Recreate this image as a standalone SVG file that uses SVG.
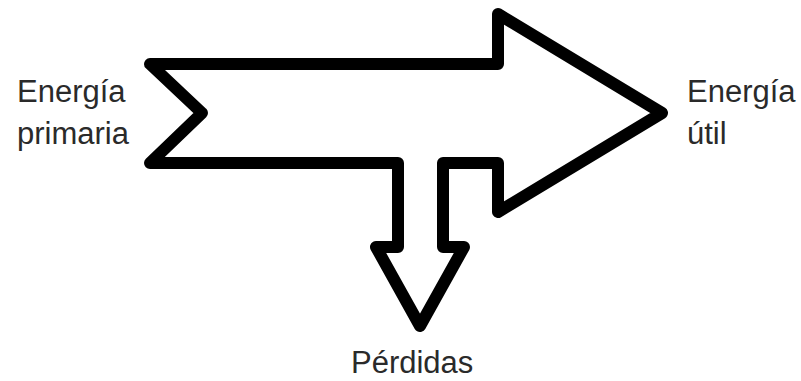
<svg xmlns="http://www.w3.org/2000/svg" width="801" height="381" viewBox="0 0 801 381">
<style>
.lbl{font-family:"Liberation Sans",Arial,sans-serif;font-size:31px;fill:#2a2a2a}
.shape{fill:#fff;stroke:#000;stroke-width:12;stroke-linejoin:round}
</style>
<rect width="801" height="381" fill="#fff"/>
<g id="connectors"></g>
<g id="flow-arrow">
<path class="shape" d="M150,64 L498,64 L498,14 L662,113 L498,212 L498,163 L443,163 L443,247 L464,247 L420,326 L376,247 L398,247 L398,163 L150,163 L202,113 Z"/>
</g>
<g id="energia-primaria">
<text class="lbl" x="17" y="102">Energía</text>
<text class="lbl" x="17" y="144">primaria</text>
</g>
<g id="energia-util">
<text class="lbl" x="687" y="102">Energía</text>
<text class="lbl" x="687" y="144">útil</text>
</g>
<g id="perdidas">
<text class="lbl" x="351" y="373">Pérdidas</text>
</g>
</svg>
